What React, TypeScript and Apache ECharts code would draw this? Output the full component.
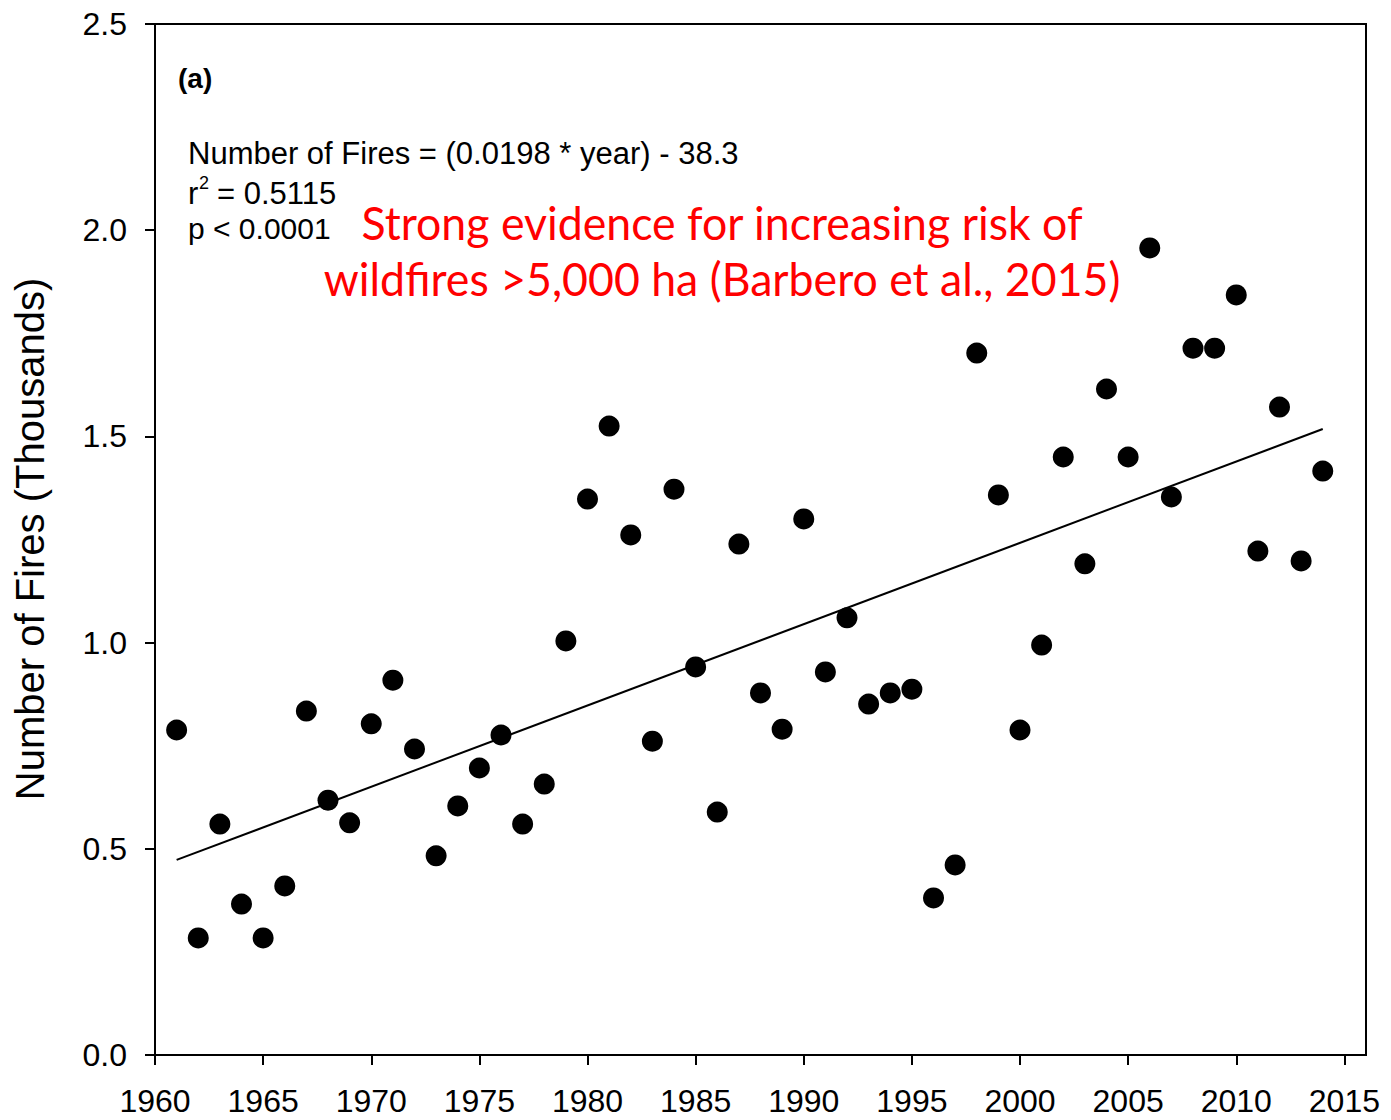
import React, { useEffect, useRef } from "react";
import * as echarts from "echarts";

const years = [
  1961, 1962, 1963, 1964, 1965, 1966, 1967, 1968, 1969, 1970,
  1971, 1972, 1973, 1974, 1975, 1976, 1977, 1978, 1979, 1980,
  1981, 1982, 1983, 1984, 1985, 1986, 1987, 1988, 1989, 1990,
  1991, 1992, 1993, 1994, 1995, 1996, 1997, 1998, 1999, 2000,
  2001, 2002, 2003, 2004, 2005, 2006, 2007, 2008, 2009, 2010,
  2011, 2012, 2013, 2014,
];
const fires = [
  0.788, 0.284, 0.560, 0.366, 0.284, 0.410, 0.834, 0.618, 0.563, 0.803,
  0.909, 0.742, 0.483, 0.604, 0.696, 0.776, 0.560, 0.657, 1.004, 1.348,
  1.525, 1.261, 0.761, 1.372, 0.941, 0.589, 1.239, 0.878, 0.790, 1.300,
  0.929, 1.060, 0.851, 0.878, 0.887, 0.381, 0.461, 1.702, 1.358, 0.788,
  0.994, 1.450, 1.191, 1.615, 1.450, 1.957, 1.353, 1.714, 1.714, 1.843,
  1.222, 1.571, 1.198, 1.416,
];
const fitYears = [1961, 2014];
const fitValues = [0.473, 1.518];
const xTicks = [1960, 1965, 1970, 1975, 1980, 1985, 1990, 1995, 2000, 2005, 2010, 2015];

const ARIAL = "'Liberation Sans', Arial, sans-serif";
const RED_FONT = "47px Lato, 'Noto Sans', sans-serif";

export default function App() {
  const ref = useRef<HTMLDivElement>(null);
  useEffect(() => {
    if (!ref.current) return;
    const chart = echarts.init(ref.current, undefined, { renderer: "svg" });
    chart.setOption({
      animation: false,
      backgroundColor: "#ffffff",
      grid: {
        left: 155,
        top: 24,
        width: 1211,
        height: 1031,
        show: true,
        borderColor: "#000",
        borderWidth: 2,
        backgroundColor: "transparent",
      },
      xAxis: {
        type: "value",
        min: 1960,
        max: 2016,
        splitLine: { show: false },
        axisLine: { show: true, lineStyle: { color: "#000", width: 2 } },
        axisTick: {
          show: true,
          inside: false,
          length: 10,
          lineStyle: { color: "#000", width: 2 },
          customValues: xTicks,
        },
        axisLabel: {
          customValues: xTicks,
          color: "#000",
          fontFamily: ARIAL,
          fontSize: 32,
          margin: 30,
          formatter: (v: number) => String(v),
        },
      },
      yAxis: {
        type: "value",
        min: 0,
        max: 2.5,
        interval: 0.5,
        splitLine: { show: false },
        axisLine: { show: true, lineStyle: { color: "#000", width: 2 } },
        axisTick: { show: true, inside: false, length: 10, lineStyle: { color: "#000", width: 2 } },
        axisLabel: {
          color: "#000",
          fontFamily: ARIAL,
          fontSize: 32,
          margin: 28,
          formatter: (v: number) => v.toFixed(1),
        },
      },
      series: [
        {
          type: "line",
          data: fitYears.map((y, i) => [y, fitValues[i]]),
          symbol: "none",
          lineStyle: { color: "#000", width: 2 },
          z: 2,
        },
        {
          type: "scatter",
          data: years.map((y, i) => [y, fires[i]]),
          symbol: "circle",
          symbolSize: 21,
          itemStyle: { color: "#000", opacity: 1 },
          z: 3,
        },
      ],
      graphic: [
        {
          type: "text",
          x: 30,
          y: 539,
          rotation: Math.PI / 2,
          style: {
            text: "Number of Fires (Thousands)",
            font: `40px ${ARIAL}`,
            fill: "#000",
            align: "center",
            verticalAlign: "middle",
          },
        },
        {
          type: "text",
          x: 178,
          y: 78,
          style: {
            text: "(a)",
            font: `bold 28px ${ARIAL}`,
            fill: "#000",
            align: "left",
            verticalAlign: "middle",
          },
        },
        {
          type: "text",
          x: 188,
          y: 153,
          style: {
            text: "Number of Fires = (0.0198 * year) - 38.3",
            font: `31px ${ARIAL}`,
            fill: "#000",
            align: "left",
            verticalAlign: "middle",
          },
        },
        {
          type: "text",
          x: 188,
          y: 193,
          style: {
            text: "r",
            font: `31px ${ARIAL}`,
            fill: "#000",
            align: "left",
            verticalAlign: "middle",
          },
        },
        {
          type: "text",
          x: 199,
          y: 183,
          style: {
            text: "2",
            font: `18px ${ARIAL}`,
            fill: "#000",
            align: "left",
            verticalAlign: "middle",
          },
        },
        {
          type: "text",
          x: 217,
          y: 193,
          style: {
            text: "= 0.5115",
            font: `31px ${ARIAL}`,
            fill: "#000",
            align: "left",
            verticalAlign: "middle",
          },
        },
        {
          type: "text",
          x: 188,
          y: 228,
          style: {
            text: "p < 0.0001",
            font: `30px ${ARIAL}`,
            fill: "#000",
            align: "left",
            verticalAlign: "middle",
          },
        },
        {
          type: "text",
          x: 722,
          y: 222,
          scaleX: 0.95,
          style: {
            text: "Strong evidence for increasing risk of",
            font: RED_FONT,
            fill: "#ff0000",
            align: "center",
            verticalAlign: "middle",
          },
        },
        {
          type: "text",
          x: 722,
          y: 278,
          scaleX: 0.95,
          style: {
            text: "wildfires >5,000 ha (Barbero et al., 2015)",
            font: RED_FONT,
            fill: "#ff0000",
            align: "center",
            verticalAlign: "middle",
          },
        },
      ],
    });
    return () => chart.dispose();
  }, []);
  return (
    <div
      ref={ref}
      style={{ position: "absolute", left: 0, top: 0, width: 1391, height: 1120 }}
    />
  );
}
